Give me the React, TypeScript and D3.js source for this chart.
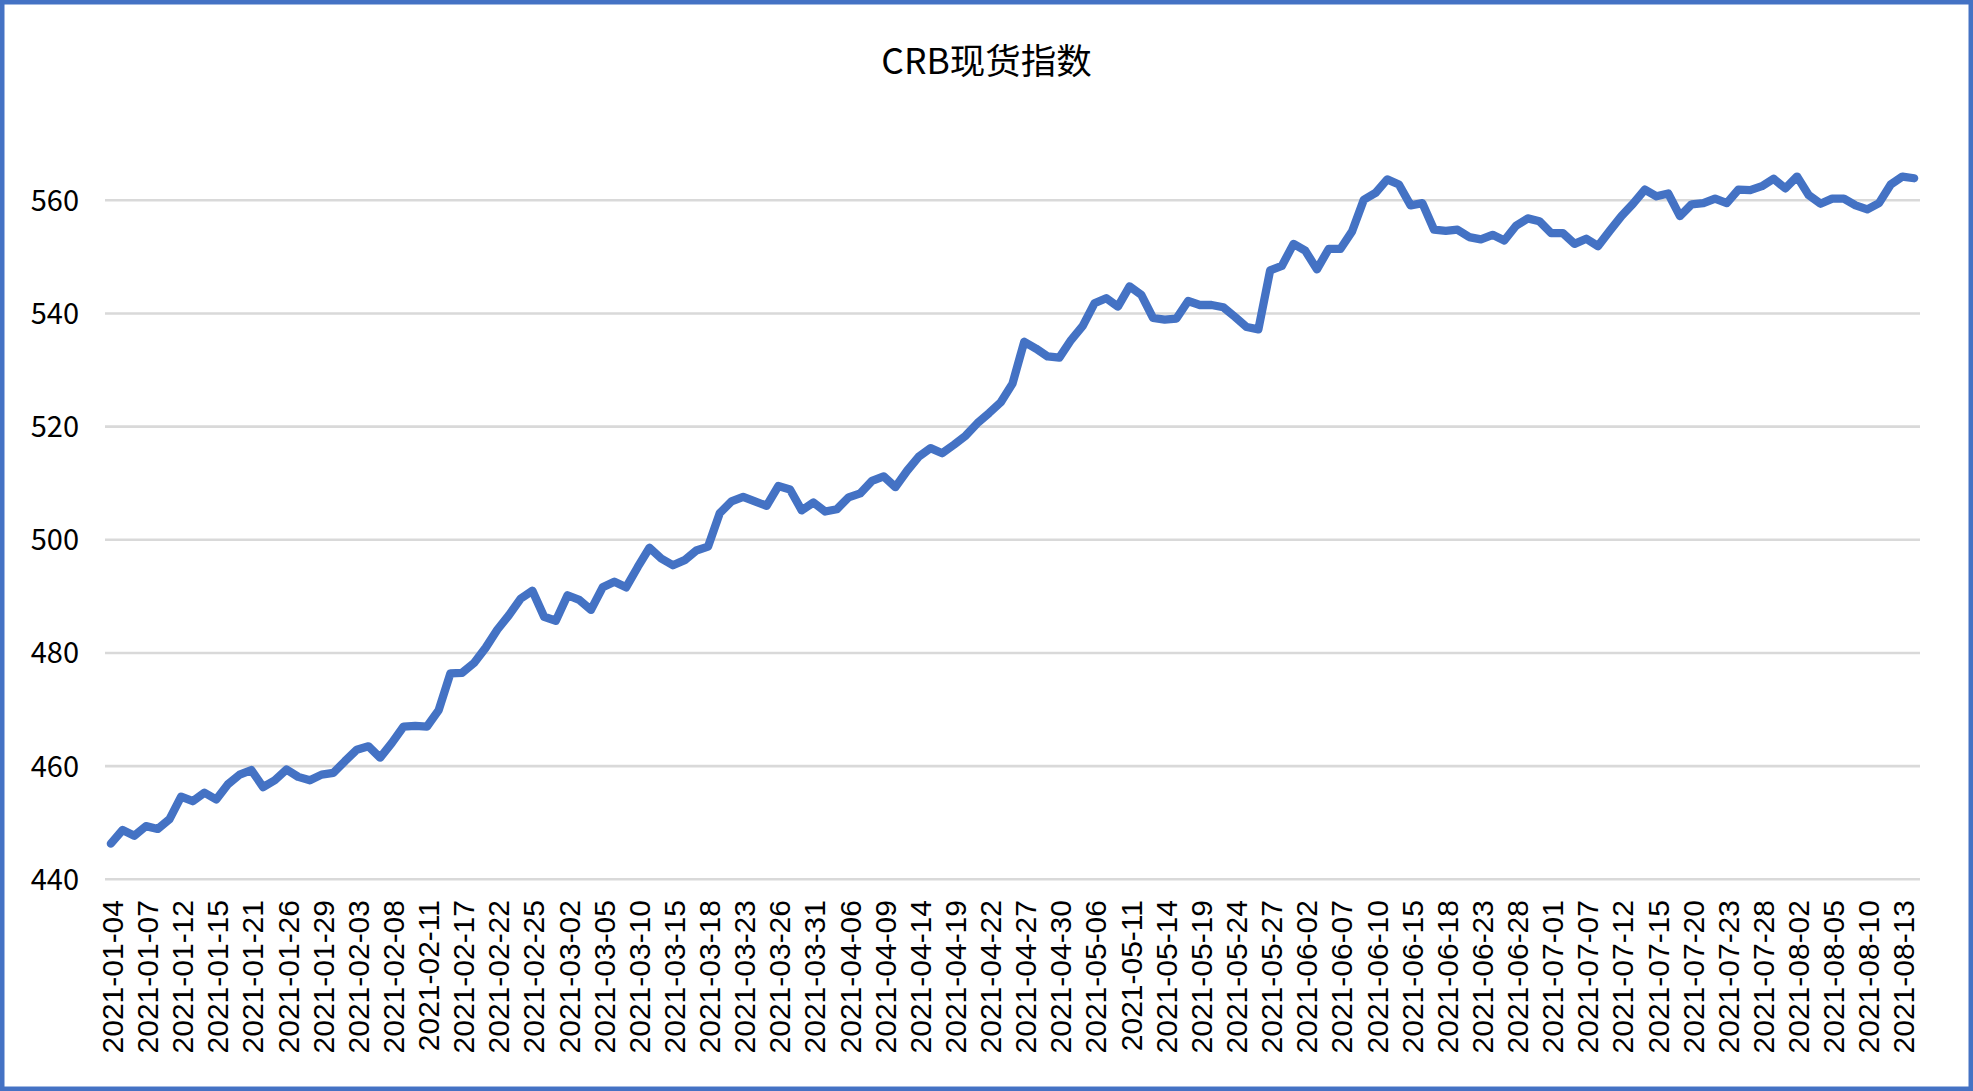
import { useRef, useEffect, FC } from 'react'
import * as d3 from 'd3'

const title = 'CRB现货指数'

const dates = [
	'2021-01-04', '2021-01-05', '2021-01-06', '2021-01-07', '2021-01-08', '2021-01-11', '2021-01-12', '2021-01-13', '2021-01-14', '2021-01-15',
	'2021-01-19', '2021-01-20', '2021-01-21', '2021-01-22', '2021-01-25', '2021-01-26', '2021-01-27', '2021-01-28', '2021-01-29',
	'2021-02-01', '2021-02-02', '2021-02-03', '2021-02-04', '2021-02-05', '2021-02-08', '2021-02-09', '2021-02-10', '2021-02-11', '2021-02-12',
	'2021-02-16', '2021-02-17', '2021-02-18', '2021-02-19', '2021-02-22', '2021-02-23', '2021-02-24', '2021-02-25', '2021-02-26',
	'2021-03-01', '2021-03-02', '2021-03-03', '2021-03-04', '2021-03-05', '2021-03-08', '2021-03-09', '2021-03-10', '2021-03-11', '2021-03-12',
	'2021-03-15', '2021-03-16', '2021-03-17', '2021-03-18', '2021-03-19', '2021-03-22', '2021-03-23', '2021-03-24', '2021-03-25', '2021-03-26',
	'2021-03-29', '2021-03-30', '2021-03-31',
	'2021-04-01', '2021-04-05', '2021-04-06', '2021-04-07', '2021-04-08', '2021-04-09', '2021-04-12', '2021-04-13', '2021-04-14', '2021-04-15',
	'2021-04-16', '2021-04-19', '2021-04-20', '2021-04-21', '2021-04-22', '2021-04-23', '2021-04-26', '2021-04-27', '2021-04-28', '2021-04-29',
	'2021-04-30',
	'2021-05-04', '2021-05-05', '2021-05-06', '2021-05-07', '2021-05-10', '2021-05-11', '2021-05-12', '2021-05-13', '2021-05-14', '2021-05-17',
	'2021-05-18', '2021-05-19', '2021-05-20', '2021-05-21', '2021-05-24', '2021-05-25', '2021-05-26', '2021-05-27', '2021-05-28',
	'2021-06-01', '2021-06-02', '2021-06-03', '2021-06-04', '2021-06-07', '2021-06-08', '2021-06-09', '2021-06-10', '2021-06-11', '2021-06-14',
	'2021-06-15', '2021-06-16', '2021-06-17', '2021-06-18', '2021-06-21', '2021-06-22', '2021-06-23', '2021-06-24', '2021-06-25', '2021-06-28',
	'2021-06-29', '2021-06-30',
	'2021-07-01', '2021-07-02', '2021-07-06', '2021-07-07', '2021-07-08', '2021-07-09', '2021-07-12', '2021-07-13', '2021-07-14', '2021-07-15',
	'2021-07-16', '2021-07-19', '2021-07-20', '2021-07-21', '2021-07-22', '2021-07-23', '2021-07-26', '2021-07-27', '2021-07-28', '2021-07-29',
	'2021-07-30',
	'2021-08-02', '2021-08-03', '2021-08-04', '2021-08-05', '2021-08-06', '2021-08-09', '2021-08-10', '2021-08-11', '2021-08-12', '2021-08-13',
	'2021-08-16',
]

const values = [
	446.3, 448.7, 447.7, 449.4, 448.9, 450.6, 454.6, 453.8, 455.3, 454.1,
	456.8, 458.5, 459.3, 456.3, 457.5, 459.4, 458.1, 457.5, 458.5,
	458.8, 460.9, 462.9, 463.5, 461.5, 464.1, 467.0, 467.1, 467.0, 469.9,
	476.4, 476.5, 478.2, 480.9, 484.1, 486.7, 489.6, 491.0, 486.4,
	485.7, 490.2, 489.4, 487.6, 491.6, 492.6, 491.6, 495.2, 498.6, 496.7,
	495.5, 496.4, 498.1, 498.8, 504.7, 506.8, 507.6, 506.8, 506.0, 509.5,
	508.9, 505.2, 506.6,
	505.0, 505.4, 507.5, 508.2, 510.4, 511.2, 509.3, 512.2, 514.7, 516.2,
	515.3, 516.8, 518.4, 520.6, 522.4, 524.3, 527.6, 535.0, 533.8, 532.4,
	532.2,
	535.3, 537.8, 541.8, 542.7, 541.2, 544.8, 543.3, 539.2, 538.9, 539.1,
	542.2, 541.5, 541.5, 541.1, 539.4, 537.6, 537.2, 547.6, 548.4,
	552.3, 551.1, 547.8, 551.4, 551.4, 554.5, 560.1, 561.3, 563.7, 562.8,
	559.1, 559.5, 554.8, 554.6, 554.8, 553.5, 553.1, 553.9, 552.9, 555.5,
	556.8, 556.3,
	554.2, 554.2, 552.3, 553.2, 551.9, 554.6, 557.2, 559.4, 561.9, 560.7,
	561.2, 557.2, 559.3, 559.5, 560.3, 559.5, 561.9, 561.8, 562.5, 563.8,
	562.1,
	564.2, 560.9, 559.4, 560.3, 560.3, 559.1, 558.4, 559.5, 562.8, 564.2,
	563.9,
]

const yTicks = [440, 460, 480, 500, 520, 540, 560]

// every third trading day gets a label
const xTickLabels = dates.filter((_, i) => i % 3 === 0)

const App: FC = () => {
	const svgRef = useRef<SVGSVGElement | null>(null)

	useEffect(() => {
		if (!svgRef.current) return

		const width = 1973
		const height = 1091
		const plot = { left: 105, right: 1920, top: 143.7, bottom: 879.3 }
		const blue = '#4472C4'

		d3.select(svgRef.current).selectAll('*').remove()

		const svg = d3
			.select(svgRef.current)
			.attr('width', width)
			.attr('height', height)

		svg
			.append('rect')
			.attr('width', width)
			.attr('height', height)
			.attr('fill', '#fff')

		const x = d3
			.scaleBand<string>()
			.domain(dates)
			.range([plot.left, plot.right])
			.padding(0)

		const y = d3
			.scaleLinear()
			.domain([440, 560])
			.range([plot.bottom, 200.3])

		const cx = (d: string) => x(d)! + x.bandwidth() / 2

		// gridlines
		svg
			.append('g')
			.selectAll('line')
			.data(yTicks)
			.enter()
			.append('line')
			.attr('x1', plot.left)
			.attr('x2', plot.right)
			.attr('y1', (d) => y(d))
			.attr('y2', (d) => y(d))
			.attr('stroke', '#D9D9D9')
			.attr('stroke-width', 2.6)

		// Y labels
		svg
			.append('g')
			.selectAll('text')
			.data(yTicks)
			.enter()
			.append('text')
			.attr('x', 79)
			.attr('y', (d) => y(d))
			.attr('dy', '0.36em')
			.attr('text-anchor', 'end')
			.attr('font-family', '"Noto Sans CJK SC", sans-serif')
			.attr('font-size', 29)
			.attr('fill', '#000')
			.text((d) => d)

		// X labels
		svg
			.append('g')
			.selectAll('text')
			.data(xTickLabels)
			.enter()
			.append('text')
			.attr('transform', (d) => `translate(${cx(d) + 1.5},900) rotate(-90)`)
			.attr('dy', '0.35em')
			.attr('text-anchor', 'end')
			.attr('font-family', '"Liberation Sans", Arial, sans-serif')
			.attr('font-size', 30)
			.attr('fill', '#000')
			.text((d) => d)

		const line = d3
			.line<number>()
			.x((_, i) => cx(dates[i]))
			.y((d) => y(d))

		svg
			.append('path')
			.datum(values)
			.attr('d', line)
			.attr('fill', 'none')
			.attr('stroke', blue)
			.attr('stroke-width', 8.3)
			.attr('stroke-linejoin', 'round')
			.attr('stroke-linecap', 'round')

		svg
			.append('text')
			.attr('x', width / 2)
			.attr('y', 74)
			.attr('text-anchor', 'middle')
			.attr('font-family', '"Noto Sans CJK SC", sans-serif')
			.attr('font-size', 35.5)
			.attr('fill', '#000')
			.text(title)

		// outer frame
		svg
			.append('rect')
			.attr('x', 2.25)
			.attr('y', 2.25)
			.attr('width', width - 4.5)
			.attr('height', height - 4.5)
			.attr('fill', 'none')
			.attr('stroke', blue)
			.attr('stroke-width', 4.5)
	}, [])

	return (
		<div style={{ position: 'absolute', left: 0, top: 0 }}>
			<svg ref={svgRef} style={{ display: 'block' }}></svg>
		</div>
	)
}

export default App
